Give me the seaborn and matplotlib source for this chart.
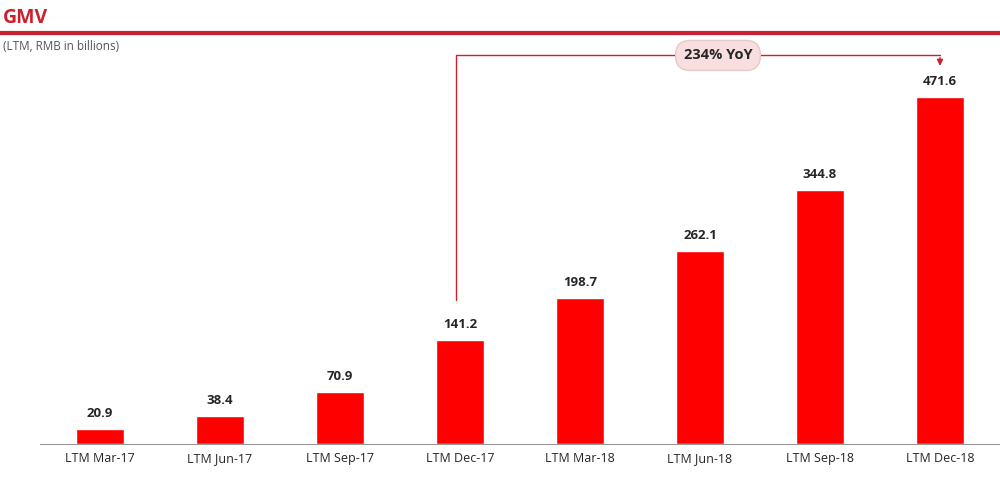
import matplotlib
matplotlib.use("Agg")
import matplotlib.pyplot as plt
import seaborn as sns
import pandas as pd

periods = ["LTM Mar-17", "LTM Jun-17", "LTM Sep-17", "LTM Dec-17",
           "LTM Mar-18", "LTM Jun-18", "LTM Sep-18", "LTM Dec-18"]
gmv = [20.9, 38.4, 70.9, 141.2, 198.7, 262.1, 344.8, 471.6]

df = pd.DataFrame({"period": periods, "gmv": gmv})

sns.set_style("white")
plt.rcParams["font.family"] = ["Open Sans", "DejaVu Sans"]

fig = plt.figure(figsize=(10, 4.79), dpi=100)
ax = fig.add_axes([0.04, 1 - 444 / 479, 0.96, 404 / 479])
red = "#ff0000"
sns.barplot(data=df, x="period", y="gmv", color=red, width=0.4, saturation=1, ax=ax)
ax.set_xlim(-0.5, 7.5)
ax.set_ylim(0, 549)
ax.set_xlabel("")
ax.set_ylabel("")
ax.set_yticks([])
for s in ["top", "right", "left"]:
    ax.spines[s].set_visible(False)
ax.spines["bottom"].set_color("#999999")
ax.tick_params(axis="x", labelsize=9, length=0, pad=6)

for i, v in enumerate(gmv):
    ax.text(i, v + 12, f"{v:.1f}", ha="center", va="bottom", fontsize=9.5, fontweight="bold")

# bracket annotation
lc = "#cc1f2b"
ax.plot([2.97, 2.97, 7.0], [196, 528, 528], color=lc, lw=1, clip_on=False)
ax.annotate("", xy=(7.0, 510), xytext=(7.0, 529),
            arrowprops=dict(arrowstyle="-|>", color=lc, lw=1, mutation_scale=9),
            annotation_clip=False)
ax.text(5.15, 528, "234% YoY", ha="center", va="center", fontsize=10.5, fontweight="bold",
        bbox=dict(boxstyle="round,pad=0.55,rounding_size=1.0", fc="#f8dede", ec="#e8c8c8"))

# header
fig.text(0.003, 1 - 18 / 479, "GMV", color="#cc1f2b", fontsize=14, fontweight="bold", va="center")
fig.add_artist(plt.Line2D([0, 1], [1 - 33 / 479, 1 - 33 / 479], color="#cc2030", lw=3))
fig.text(0.003, 1 - 47 / 479, "(LTM, RMB in billions)", color="#555555", fontsize=8.5, va="center")

fig.savefig("out.png", dpi=100)
